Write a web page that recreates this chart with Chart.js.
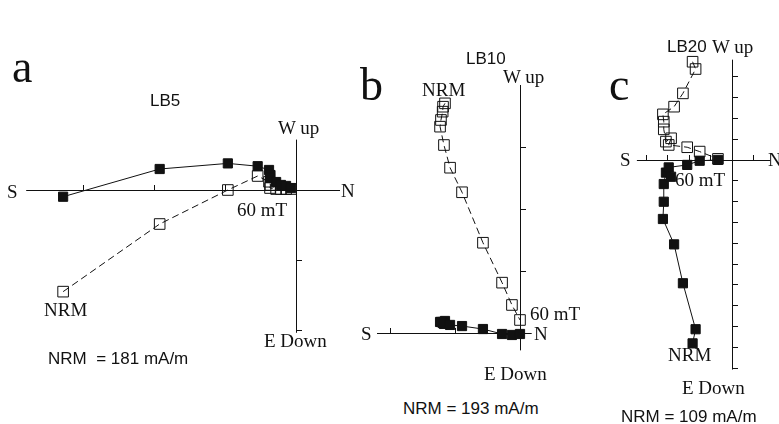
<!DOCTYPE html>
<html lang="en">
<head>
<meta charset="UTF-8">
<title>Zijderveld diagrams LB5, LB10, LB20</title>
<script src="https://cdn.jsdelivr.net/npm/chart.js@4.4.0/dist/chart.umd.min.js"></script>
<style>
    body { margin: 0; background: #fff; }
    #fig {
        position: relative;
        width: 779px;
        height: 424px;
        overflow: hidden;
        font-family: "Liberation Serif", "Times New Roman", serif;
        color: #111;
    }
    #fig canvas { position: absolute; }
    .t { position: absolute; white-space: nowrap; line-height: 1; }
    .big { font-size: 46px; }
    .lab { font-size: 19px; }
    .sans { font-family: "Liberation Sans", Arial, sans-serif; font-size: 17px; }
    .id { font-family: "Liberation Sans", Arial, sans-serif; font-size: 17px; }
</style>
</head>
<body>
<div id="fig">
    <canvas id="lb5" width="360" height="320" style="left:0;top:40px"></canvas>
    <canvas id="lb10" width="200" height="300" style="left:360px;top:60px"></canvas>
    <canvas id="lb20" width="179" height="350" style="left:600px;top:30px"></canvas>

    <!-- panel a -->
    <div class="t big" style="left:12px;top:44px">a</div>
    <div class="t id" style="left:150px;top:92px">LB5</div>
    <div class="t lab" style="left:278px;top:118px">W up</div>
    <div class="t lab" style="left:7px;top:182px">S</div>
    <div class="t lab" style="left:341px;top:181px">N</div>
    <div class="t lab" style="left:44px;top:300px">NRM</div>
    <div class="t lab" style="left:237px;top:200px">60 mT</div>
    <div class="t lab" style="left:264px;top:331px">E Down</div>
    <div class="t sans" style="left:48px;top:350px">NRM&nbsp; = 181 mA/m</div>

    <!-- panel b -->
    <div class="t big" style="left:360px;top:62px">b</div>
    <div class="t id" style="left:466px;top:50px">LB10</div>
    <div class="t lab" style="left:503px;top:67px">W up</div>
    <div class="t lab" style="left:422px;top:80px">NRM</div>
    <div class="t lab" style="left:361px;top:324px">S</div>
    <div class="t lab" style="left:534px;top:324px">N</div>
    <div class="t lab" style="left:530px;top:304px">60 mT</div>
    <div class="t lab" style="left:484px;top:364px">E Down</div>
    <div class="t sans" style="left:403px;top:400px">NRM = 193 mA/m</div>

    <!-- panel c -->
    <div class="t big" style="left:609px;top:62px">c</div>
    <div class="t id" style="left:667px;top:38px">LB20</div>
    <div class="t lab" style="left:712px;top:37px">W up</div>
    <div class="t lab" style="left:620px;top:150px">S</div>
    <div class="t lab" style="left:768px;top:150px">N</div>
    <div class="t lab" style="left:675px;top:170px">60 mT</div>
    <div class="t lab" style="left:668px;top:345px">NRM</div>
    <div class="t lab" style="left:682px;top:378px">E Down</div>
    <div class="t sans" style="left:621px;top:408px">NRM = 109 mA/m</div>
</div>

<script>
// LB5, mA/m. Demagnetisation steps from NRM to 60 mT.
const lb5North = [-164, -96, -48, -27, -19, -18, -18.3, -14, -10.6, -7, -3.5];
const lb5West  = [-4.8, 15, 19, 17, 14.3, 10.7, 8.6, 5.7, 3.6, 2.9, 1.4];   // horizontal plane
const lb5Up    = [-72.6, -24.3, 0, 10, 5.9, 3.6, 1.4, 0.7, 0.7, 0.7, 0.7];  // vertical plane

// LB10
const lb10North = [-57.7, -59.2, -59.5, -60.8, -61.5, -58.5, -53.8, -44.6, -28.5, -13.8, -6.2, 0];
const lb10West  = [9.7, 8.9, 8.1, 8.9, 8.9, 7.3, 6.5, 5.6, 3.2, -0.8, -1.6, -0.8];
const lb10Up    = [185.2, 182.5, 178.5, 171.8, 166.4, 151.6, 133.3, 113.5, 72.8, 40.6, 22.6, 10.5];

// LB20
const lb20North = [-18.1, -16.7, -22.6, -26.7, -31.9, -31.5, -31.5, -30.5, -28.1, -29.2, -20.6, -14.8, -6.3];
const lb20West  = [-88.4, -81.6, -59.5, -40.8, -28.6, -20.3, -11.8, -6.3, -8.3, -3.8, -2.6, -0.6, -0.2];
const lb20Up    = [47, 43.5, 31.8, 25.4, 21.7, 18.2, 14.5, 8.6, 10.2, 7, 5.9, 3.8, 0.3];

// axis ticks (mA/m)
const lb5TicksN  = [-150, -100, -50];
const lb5TicksV  = [-100, -50];
const lb10TicksN = [-100, -50];
const lb10TicksV = [50, 100, 150];
const lb20TicksN = [-40, -30, -20, -10, 10];
const lb20TicksV = [-100, -90, -80, -70, -60, -50, -40, -30, -20, -10, 10, 20, 30, 40];

function pts(xs, ys) {
    return xs.map((x, i) => ({ x: x, y: ys[i] }));
}

// draws the N-S and W/up-E/down axes through the origin
const crossAxes = {
    id: 'crossAxes',
    beforeDatasetsDraw(chart, args, opts) {
        const ctx = chart.ctx;
        const sx = chart.scales.x, sy = chart.scales.y;
        const x0 = Math.round(sx.getPixelForValue(0)), y0 = Math.round(sy.getPixelForValue(0));
        ctx.save();
        ctx.strokeStyle = '#111';
        ctx.lineWidth = 1;
        ctx.beginPath();
        ctx.moveTo(sx.getPixelForValue(opts.h[0]), y0 + 0.5);
        ctx.lineTo(sx.getPixelForValue(opts.h[1]), y0 + 0.5);
        ctx.moveTo(x0 + 0.5, sy.getPixelForValue(opts.v[0]));
        ctx.lineTo(x0 + 0.5, sy.getPixelForValue(opts.v[1]));
        opts.ticksN.forEach(t => {
            const px = Math.round(sx.getPixelForValue(t)) + 0.5;
            ctx.moveTo(px, y0);
            ctx.lineTo(px, y0 - 5);
        });
        opts.ticksV.forEach(t => {
            const py = Math.round(sy.getPixelForValue(t)) + 0.5;
            ctx.moveTo(x0, py);
            ctx.lineTo(x0 + 6, py);
        });
        ctx.stroke();
        ctx.restore();
    }
};

function zijderveld(id, north, west, up, p) {
    const cv = document.getElementById(id);
    const w = cv.width, h = cv.height;
    new Chart(cv, {
        type: 'scatter',
        data: {
            datasets: [
                {
                    data: pts(north, west),
                    showLine: true,
                    borderColor: '#111',
                    borderWidth: 1,
                    pointStyle: 'rect',
                    pointRadius: 6.5,
                    pointBackgroundColor: '#111',
                    pointBorderColor: '#111'
                },
                {
                    data: pts(north, up),
                    showLine: true,
                    borderColor: '#111',
                    borderWidth: 1,
                    borderDash: [7, 4],
                    pointStyle: 'rect',
                    pointRadius: 7.5,
                    pointBorderWidth: 1,
                    pointBackgroundColor: 'rgba(0,0,0,0)',
                    pointBorderColor: '#111'
                }
            ]
        },
        options: {
            responsive: false,
            animation: false,
            events: [],
            layout: { padding: 0, autoPadding: false },
            clip: false,
            scales: {
                x: { type: 'linear', display: false, min: -p.ox / p.kx, max: (w - p.ox) / p.kx },
                y: { type: 'linear', display: false, min: -(h - p.oy) / p.ky, max: p.oy / p.ky }
            },
            plugins: {
                legend: { display: false },
                tooltip: { enabled: false },
                crossAxes: { h: p.h, v: p.v, ticksN: p.ticksN, ticksV: p.ticksV }
            }
        },
        plugins: [crossAxes]
    });
}

zijderveld('lb5', lb5North, lb5West, lb5Up,
    { ox: 296, oy: 150, kx: 1.42, ky: 1.4, h: [-190, 31], v: [-102, 36], ticksN: lb5TicksN, ticksV: lb5TicksV });
zijderveld('lb10', lb10North, lb10West, lb10Up,
    { ox: 160, oy: 273, kx: 1.3, ky: 1.24, h: [-110, 9], v: [-14, 200], ticksN: lb10TicksN, ticksV: lb10TicksV });
zijderveld('lb20', lb20North, lb20West, lb20Up,
    { ox: 131.5, oy: 129.5, kx: 2.15, ky: 2.08, h: [-44, 18], v: [-101, 48], ticksN: lb20TicksN, ticksV: lb20TicksV });
</script>
</body>
</html>
